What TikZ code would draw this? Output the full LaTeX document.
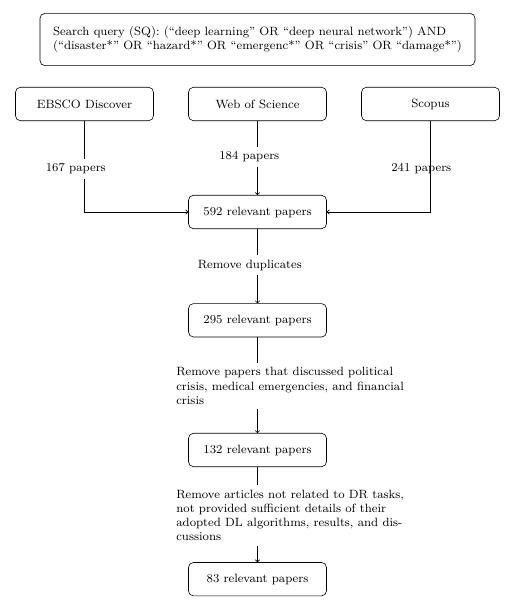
\documentclass[tikz,border=0pt]{standalone}
\usetikzlibrary{arrows.meta}
\begin{document}
\begin{tikzpicture}[x=0.6667pt,y=-0.6667pt,font=\footnotesize,
  box/.style={draw,rounded corners=3.3pt,minimum width=92pt,minimum height=22.3pt,inner sep=2pt},
  lbl/.style={fill=white,inner sep=3.33pt},
  para/.style={fill=white,align=left,anchor=west,inner xsep=0pt,inner ysep=3pt},
  arr/.style={-{To[length=1.8pt,width=3.2pt]}}]
\useasboundingbox (0,0) rectangle (505,608);
\node[draw,rounded corners=3.3pt,minimum width=290pt,minimum height=34.9pt,align=left] (sq) at (257.5,39.5)
  {Search query (SQ): (“deep learning” OR “deep neural network”) AND\\(“disaster*” OR “hazard*” OR “emergenc*” OR “crisis” OR “damage*”)};
\node[box] (ebsco) at (84.5,104) {EBSCO Discover};
\node[box] (wos) at (257.5,104) {Web of Science};
\node[box] (scopus) at (430.5,104) {Scopus};
\node[box] (r592) at (257.5,212) {592 relevant papers};
\node[box] (r295) at (257.5,320.3) {295 relevant papers};
\node[box] (r132) at (257.5,450) {132 relevant papers};
\node[box] (r83) at (257.5,579.2) {83 relevant papers};

\draw[arr] (ebsco.south) |- (r592.west);
\node[lbl] (l167) at (75.8,169) {167 papers};
\draw[arr] (wos) -- (r592);
\node[lbl] (l184) at (249.3,157) {184 papers};
\draw[arr] (scopus.south) |- (r592.east);
\node (l241) at (421.3,169) {241 papers};
\draw[arr] (r592) -- (r295);
\node[lbl] (ldup) at (249.8,265) {Remove duplicates};
\draw[arr] (r295) -- (r132);
\node[para] (lpol) at (176,386) {Remove papers that discussed political\\crisis, medical emergencies, and financial\\crisis};
\draw[arr] (r132) -- (r83);
\node[para] (lart) at (176,515.5) {Remove articles not related to DR tasks,\\not provided sufficient details of their\\adopted DL algorithms, results, and dis-\\cussions};
\end{tikzpicture}
\end{document}
